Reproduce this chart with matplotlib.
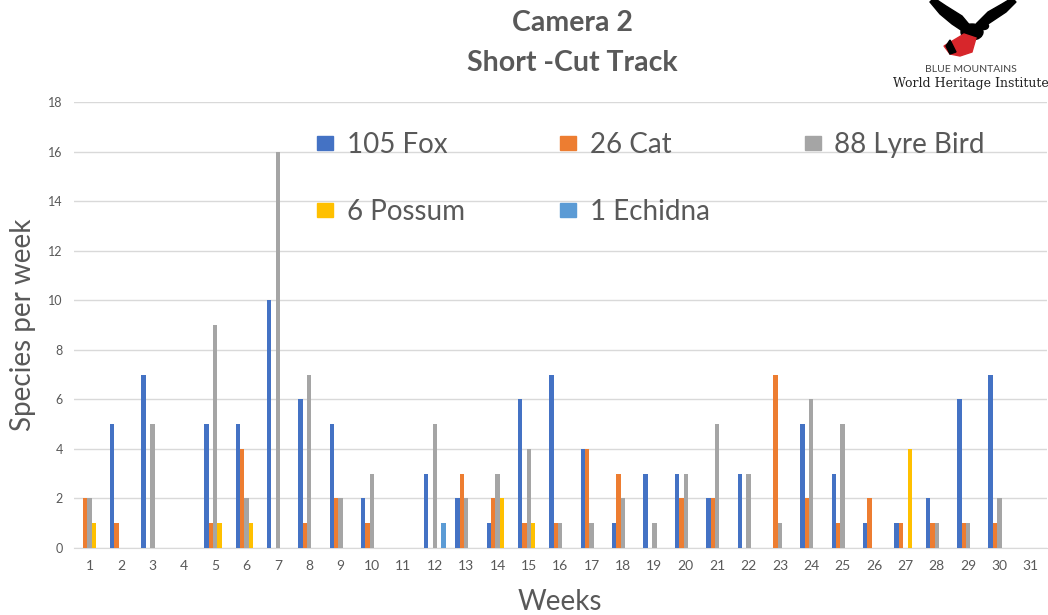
#!/usr/bin/env python3

import numpy as np
import matplotlib
matplotlib.use('Agg')
import matplotlib.pyplot as plt
from matplotlib.patches import Patch, Polygon, Ellipse

weeks = list(range(1, 32))
fox = [0, 5, 7, 0, 5, 5, 10, 6, 5, 2, 0, 3, 2, 1, 6, 7, 4, 1, 3, 3, 2, 3, 0, 5, 3, 1, 1, 2, 6, 7, 0]
cat = [2, 1, 0, 0, 1, 4, 0, 1, 2, 1, 0, 0, 3, 2, 1, 1, 4, 3, 0, 2, 2, 0, 7, 2, 1, 2, 1, 1, 1, 1, 0]
lyre = [2, 0, 5, 0, 9, 2, 16, 7, 2, 3, 0, 5, 2, 3, 4, 1, 1, 2, 1, 3, 5, 3, 1, 6, 5, 0, 0, 1, 1, 2, 0]
possum = [1, 0, 0, 0, 1, 1, 0, 0, 0, 0, 0, 0, 0, 2, 1, 0, 0, 0, 0, 0, 0, 0, 0, 0, 0, 0, 4, 0, 0, 0, 0]
echidna = [0, 0, 0, 0, 0, 0, 0, 0, 0, 0, 0, 1, 0, 0, 0, 0, 0, 0, 0, 0, 0, 0, 0, 0, 0, 0, 0, 0, 0, 0, 0]
series_labels = ['105 Fox', '26 Cat', '88 Lyre Bird', '6 Possum', '1 Echidna']
colors = ['#4472C4', '#ED7D31', '#A5A5A5', '#FFC000', '#5B9BD5']

plt.rcParams['font.family'] = ['Lato', 'DejaVu Sans']

fig = plt.figure(figsize=(10.48, 6.15), dpi=100)
ax = fig.add_axes([0.0706, 0.109, 0.928, 0.725])

x = np.array(weeks)
w = 0.14
for i, (vals, c) in enumerate(zip([fox, cat, lyre, possum, echidna], colors)):
    ax.bar(x + (i - 2) * w, vals, width=w, color=c, zorder=3)

ax.set_xlim(0.5, 31.5)
ax.set_ylim(0, 18)
ax.set_yticks(range(0, 19, 2))
ax.set_xticks(weeks)
ax.grid(axis='y', color='#D9D9D9', linewidth=1, zorder=0)
for s in ['top', 'right', 'left']:
    ax.spines[s].set_visible(False)
ax.spines['bottom'].set_color('#D9D9D9')
ax.tick_params(length=0, labelcolor='#595959')
ax.tick_params(axis='y', labelsize=9, pad=8)
ax.tick_params(axis='x', labelsize=10, pad=9)

ax.set_ylabel('Species per week', fontsize=20, color='#595959', labelpad=9)
ax.set_xlabel('Weeks', fontsize=20, color='#595959', labelpad=12)

fig.text(0.546, 0.963, 'Camera 2', ha='center', va='center', fontsize=20.5,
         fontweight='bold', color='#595959')
fig.text(0.546, 0.898, 'Short -Cut Track', ha='center', va='center', fontsize=20.5,
         fontweight='bold', color='#595959')

# column-major order so rows read Fox, Cat, Lyre / Possum, Echidna
order = [0, 3, 1, 4, 2]
handles = [Patch(color=colors[k], label=series_labels[k]) for k in order]
ax.legend(handles=handles, ncol=3, loc='upper left', bbox_to_anchor=(0.236, 0.965),
          frameon=False, fontsize=20, handlelength=0.55, handleheight=0.4,
          handletextpad=0.5, columnspacing=3.45, labelspacing=1.5,
          labelcolor='#595959', borderpad=0)

# logo
lg = fig.add_axes([925 / 1048, 1 - 57 / 615, 95 / 1048, 57 / 615])
lg.set_xlim(925, 1020)
lg.set_ylim(57, 0)
lg.axis('off')
lg.add_patch(Polygon([(930, 2), (940, 14), (952, 24), (964, 32), (972, 28), (962, 16), (946, 6), (934, -2)],
                     color='black'))
lg.add_patch(Polygon([(1016, 2), (1006, 12), (994, 20), (982, 28), (976, 24), (988, 12), (1002, 4), (1012, -2)],
                     color='black'))
lg.add_patch(Ellipse((972, 32), 22, 16, color='black'))
lg.add_patch(Ellipse((984, 26), 9, 7, color='black'))
lg.add_patch(Polygon([(964, 34), (944, 46), (950, 54), (960, 56), (972, 52), (976, 38)], color='#D7262B'))
lg.add_patch(Polygon([(950, 40), (946, 46), (950, 54), (956, 52)], color='black'))

fig.text(0.926, 0.887, 'BLUE MOUNTAINS', ha='center', va='center', fontsize=7.5,
         color='#444444')
fig.text(0.926, 0.864, 'World Heritage Institute', ha='center', va='center',
         fontsize=9, family='DejaVu Serif', color='#222222')

plt.savefig('out.png', dpi=100)
